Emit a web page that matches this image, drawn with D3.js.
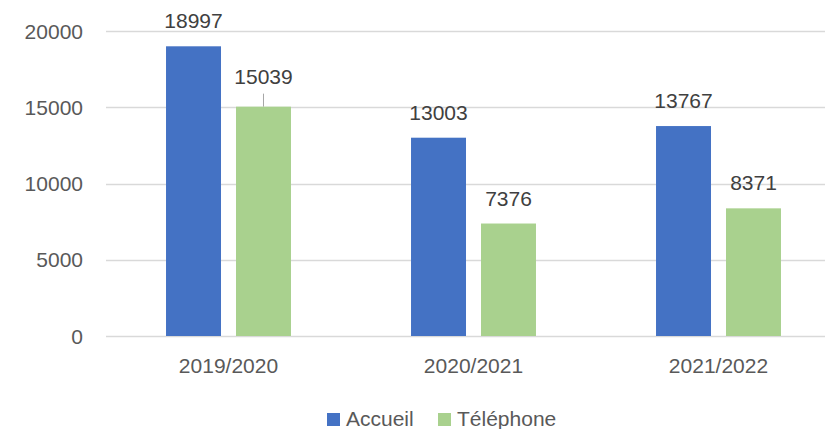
<!DOCTYPE html>
<html>
<head>
<meta charset="utf-8">
<script src="https://cdn.jsdelivr.net/npm/d3@7"></script>
<style>
  body { margin: 0; background: #fff; }
  text { font-family: "Liberation Sans", Arial, sans-serif; }
</style>
</head>
<body>
<div id="chart"></div>
<script>
// data
var years = ["2019/2020", "2020/2021", "2021/2022"];
var series = ["Accueil", "Téléphone"];
var accueil = [18997, 13003, 13767];
var telephone = [15039, 7376, 8371];
var yTicks = [0, 5000, 10000, 15000, 20000];
var colors = ["#4472c4", "#a9d18e"];

var width = 825, height = 429;

var svg = d3.select("#chart")
  .append("svg")
  .attr("width", width)
  .attr("height", height);

// plot area (the right side runs past the picture edge, as in the original)
var x0 = d3.scaleBand()
  .domain(years)
  .range([106, 841])
  .paddingInner(0.49)
  .paddingOuter(0.245);

var x1 = d3.scaleBand()
  .domain(series)
  .range([0, x0.bandwidth()])
  .paddingInner(0.2143);

var y = d3.scaleLinear()
  .domain([0, 20000])
  .range([336, 31]);

// gridlines
svg.append("g")
  .selectAll("line")
  .data(yTicks)
  .enter()
  .append("line")
  .attr("x1", 106)
  .attr("x2", width)
  .attr("y1", function(d) { return Math.round(y(d)) + 0.5; })
  .attr("y2", function(d) { return Math.round(y(d)) + 0.5; })
  .style("stroke", "#d9d9d9")
  .style("stroke-width", 1.3);

// y axis labels
svg.append("g")
  .selectAll("text")
  .data(yTicks)
  .enter()
  .append("text")
  .attr("x", 83)
  .attr("y", function(d) { return y(d); })
  .attr("dy", "0.36em")
  .attr("text-anchor", "end")
  .style("font-size", "21px")
  .style("fill", "#595959")
  .text(function(d) { return d; });

// x axis labels
svg.append("g")
  .selectAll("text")
  .data(years)
  .enter()
  .append("text")
  .attr("x", function(d) { return x0(d) + x0.bandwidth() / 2; })
  .attr("y", 373)
  .attr("text-anchor", "middle")
  .style("font-size", "21px")
  .style("fill", "#595959")
  .text(function(d) { return d; });

// build rows for the bars
var rows = [];
years.forEach(function(yr, i) {
  rows.push({year: yr, s: series[0], v: accueil[i], c: colors[0]});
  rows.push({year: yr, s: series[1], v: telephone[i], c: colors[1]});
});

var bars = svg.append("g");
bars.selectAll("rect")
  .data(rows)
  .enter()
  .append("rect")
  .attr("x", function(d) { return x0(d.year) + x1(d.s); })
  .attr("y", function(d) { return y(d.v); })
  .attr("width", x1.bandwidth())
  .attr("height", function(d) { return y(0) - y(d.v); })
  .style("fill", function(d) { return d.c; });

// value labels; the 15039 one was pushed up with a leader line
var lift = function(d) { return d.v === 15039 ? 23 : 18; };

bars.selectAll("line.leader")
  .data(rows.filter(function(d) { return lift(d) > 18; }))
  .enter()
  .append("line")
  .attr("class", "leader")
  .attr("x1", function(d) { return x0(d.year) + x1(d.s) + x1.bandwidth() / 2; })
  .attr("x2", function(d) { return x0(d.year) + x1(d.s) + x1.bandwidth() / 2; })
  .attr("y1", function(d) { return y(d.v) - 13; })
  .attr("y2", function(d) { return y(d.v); })
  .style("stroke", "#a6a6a6")
  .style("stroke-width", 1);

bars.selectAll("text")
  .data(rows)
  .enter()
  .append("text")
  .attr("x", function(d) { return x0(d.year) + x1(d.s) + x1.bandwidth() / 2; })
  .attr("y", function(d) { return y(d.v) - lift(d); })
  .attr("text-anchor", "middle")
  .style("font-size", "21px")
  .style("fill", "#404040")
  .text(function(d) { return d.v; });

// legend
var legendX = [327, 438];
var legend = svg.append("g")
  .selectAll("g")
  .data(series)
  .enter()
  .append("g")
  .attr("transform", function(d, i) { return "translate(" + legendX[i] + ",413)"; });

legend.append("rect")
  .attr("width", 13)
  .attr("height", 13)
  .style("fill", function(d, i) { return colors[i]; });

legend.append("text")
  .attr("x", 19)
  .attr("y", 13)
  .style("font-size", "21px")
  .style("fill", "#595959")
  .text(function(d) { return d; });
</script>
</body>
</html>
